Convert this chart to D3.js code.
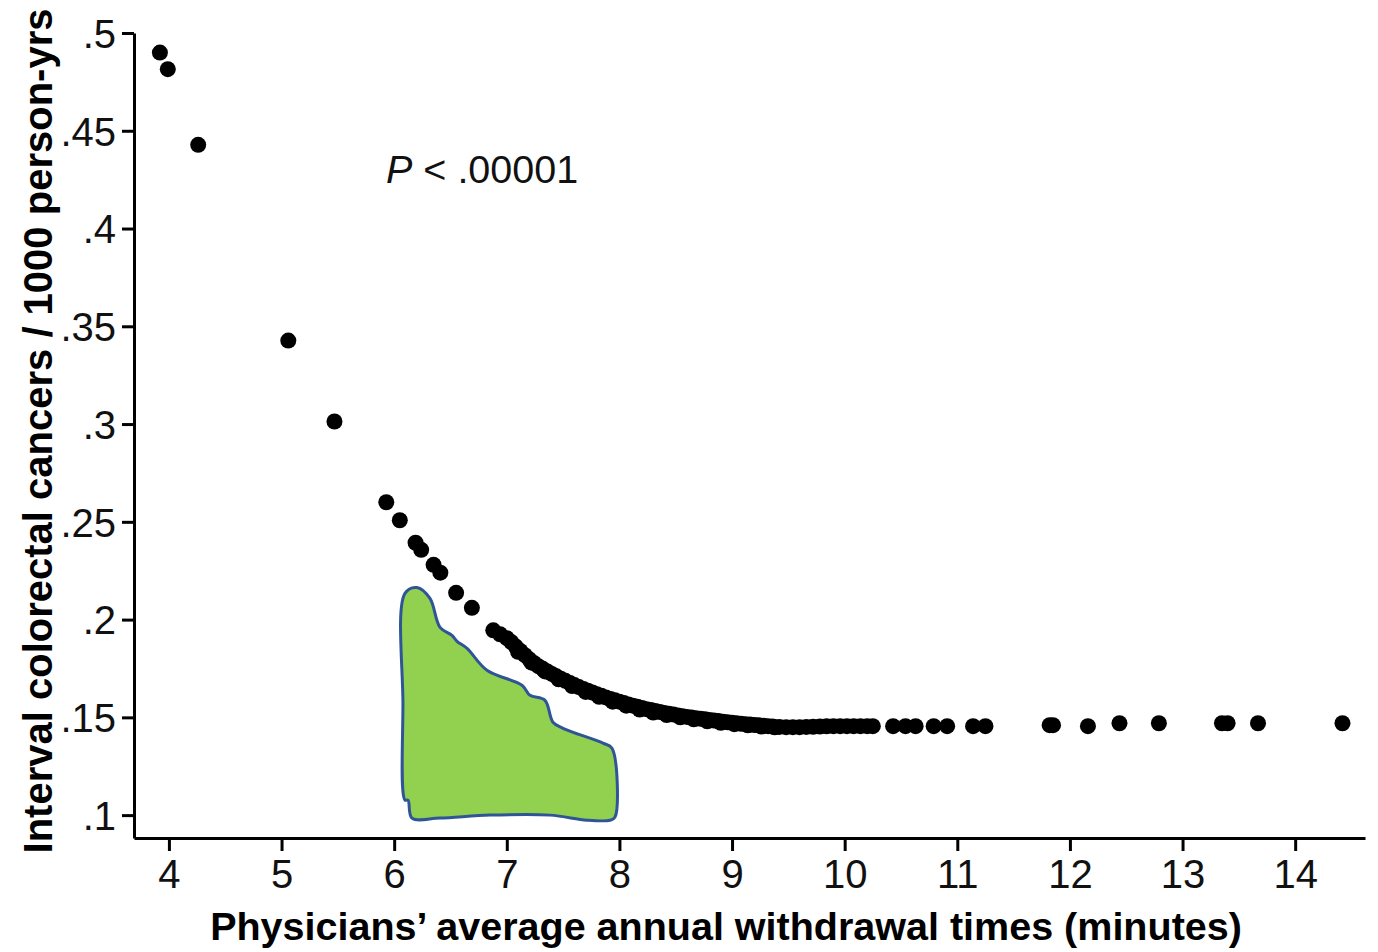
<!DOCTYPE html>
<html>
<head>
<meta charset="utf-8">
<script src="https://cdn.jsdelivr.net/npm/d3@7"></script>
<style>
  html, body { margin: 0; padding: 0; background: #fff; }
  svg { display: block; }
</style>
</head>
<body>
<div id="chart"></div>
<script>
// withdrawal time (minutes) and interval cancer rate
var sparseX = [3.92, 3.99, 4.26, 5.06, 5.47, 5.93, 6.05, 6.19, 6.24, 6.35, 6.41, 6.55, 6.69, 6.88, 6.94];
var sparseY = [0.490, 0.4815, 0.4428, 0.3427, 0.3013, 0.2600, 0.2508, 0.2393, 0.2357, 0.2280, 0.2240, 0.2137, 0.2060, 0.1945, 0.1925];

var denseX = [7.00, 7.04, 7.08, 7.12, 7.16, 7.20, 7.24, 7.28, 7.32, 7.36, 7.40, 7.44, 7.48, 7.52, 7.56,
              7.60, 7.64, 7.68, 7.72, 7.76, 7.80, 7.84, 7.88, 7.92, 7.96, 8.00, 8.04, 8.08, 8.12, 8.16,
              8.20, 8.24, 8.28, 8.32, 8.36, 8.40, 8.44, 8.48, 8.52, 8.56, 8.60, 8.64, 8.68, 8.72, 8.76,
              8.80, 8.84, 8.88, 8.92, 8.96, 9.00, 9.04, 9.08, 9.12, 9.16, 9.20, 9.24, 9.28, 9.32, 9.36,
              9.42, 9.48, 9.54, 9.60, 9.66, 9.72, 9.78, 9.84, 9.90, 9.96, 10.02, 10.08, 10.14, 10.20, 10.25];
var denseY = [0.1905, 0.1885, 0.1862, 0.1840, 0.1818, 0.1797, 0.1778, 0.1762, 0.1748, 0.1735, 0.1722, 0.1710, 0.1698, 0.1687, 0.1676,
              0.1665, 0.1655, 0.1645, 0.1636, 0.1627, 0.1618, 0.1610, 0.1602, 0.1594, 0.1587, 0.1580, 0.1573, 0.1566, 0.1560, 0.1554,
              0.1548, 0.1542, 0.1537, 0.1532, 0.1527, 0.1522, 0.1518, 0.1514, 0.1510, 0.1506, 0.1502, 0.1499, 0.1496, 0.1493, 0.1490,
              0.1487, 0.1484, 0.1481, 0.1478, 0.1475, 0.1472, 0.1470, 0.1467, 0.1465, 0.1463, 0.1461, 0.1459, 0.1457, 0.1455, 0.1453,
              0.1451, 0.1450, 0.1450, 0.1450, 0.1451, 0.1452, 0.1453, 0.1454, 0.1455, 0.1455, 0.1455, 0.1455, 0.1455, 0.1455, 0.1455];

// second, slightly offset row where the band of physicians is thickest
var bandX = [7.10, 7.22, 7.34, 7.46, 7.58, 7.70, 7.82, 7.94, 8.06, 8.18, 8.30, 8.42, 8.54, 8.66, 8.78, 8.90, 9.02, 9.14, 9.26, 9.38];
var bandY = [0.1835, 0.1780, 0.1735, 0.1695, 0.1660, 0.1630, 0.1605, 0.1580, 0.1560, 0.1540, 0.1525, 0.1512, 0.1500, 0.1490, 0.1480, 0.1472, 0.1465, 0.1459, 0.1453, 0.1449];

var tailX = [10.43, 10.54, 10.63, 10.79, 10.91, 11.14, 11.25, 11.82, 11.85, 12.16, 12.44, 12.79, 13.35, 13.40, 13.67, 14.42];
var tailY = [0.1455, 0.1455, 0.1455, 0.1455, 0.1455, 0.1455, 0.1455, 0.1460, 0.1460, 0.1455, 0.1470, 0.1470, 0.1470, 0.1470, 0.1470, 0.1470];

// hand-drawn green highlight (outline in data units)
var shapeX = [6.096, 6.202, 6.318, 6.407, 6.513, 6.558, 6.647, 6.824, 7.135, 7.206, 7.339, 7.410, 7.499, 7.854, 7.934,
              7.961, 7.917, 7.712, 7.384, 6.851, 6.407, 6.158, 6.123, 6.096, 6.078];
var shapeY = [0.2134, 0.2164, 0.2108, 0.1960, 0.1919, 0.1889, 0.1853, 0.1741, 0.1664, 0.1613, 0.1587, 0.1475, 0.1444, 0.1368, 0.1342,
              0.0990, 0.0974, 0.0974, 0.1000, 0.1000, 0.0985, 0.0985, 0.1077, 0.1077, 0.1572];

var xTicks = [4, 5, 6, 7, 8, 9, 10, 11, 12, 13, 14];
var yTicks = [0.1, 0.15, 0.2, 0.25, 0.3, 0.35, 0.4, 0.45, 0.5];
var yTickLabels = [".1", ".15", ".2", ".25", ".3", ".35", ".4", ".45", ".5"];

var width = 1378, height = 952;
var font = "'Liberation Sans', Arial, Helvetica, sans-serif";

var svg = d3.select("#chart").append("svg")
    .attr("width", width)
    .attr("height", height)
    .style("background", "#fff");

var x = d3.scaleLinear().domain([3.69, 14.62]).range([134, 1365]);
var y = d3.scaleLinear().domain([0.0883, 0.5]).range([838, 33]);

// highlight shape
var shape = shapeX.map(function(d, i) { return [d, shapeY[i]]; });
svg.append("path")
    .datum(shape)
    .attr("d", d3.line()
        .x(function(d) { return x(d[0]); })
        .y(function(d) { return y(d[1]); })
        .curve(d3.curveCatmullRomClosed.alpha(0.5)))
    .attr("fill", "#92d050")
    .attr("stroke", "#2f5597")
    .attr("stroke-width", 3)
    .attr("stroke-linejoin", "round");

// points
var pts = [];
[[sparseX, sparseY], [denseX, denseY], [bandX, bandY], [tailX, tailY]].forEach(function(s) {
    s[0].forEach(function(v, i) { pts.push([v, s[1][i]]); });
});

svg.append("g").selectAll("circle")
    .data(pts)
    .enter().append("circle")
    .attr("cx", function(d) { return x(d[0]); })
    .attr("cy", function(d) { return y(d[1]); })
    .attr("r", 8)
    .attr("fill", "#000");

// axes
var xAxis = svg.append("g")
    .attr("transform", "translate(0," + 838 + ")")
    .call(d3.axisBottom(x).tickValues(xTicks).tickSize(13).tickSizeOuter(0).tickPadding(9));

var yAxis = svg.append("g")
    .attr("transform", "translate(" + 134 + ",0)")
    .call(d3.axisLeft(y).tickValues(yTicks).tickSize(12).tickSizeOuter(0).tickPadding(6)
        .tickFormat(function(d, i) { return yTickLabels[i]; }));

[xAxis, yAxis].forEach(function(ax) {
    ax.select(".domain").attr("stroke", "#000").attr("stroke-width", 3);
    ax.selectAll(".tick line").attr("stroke", "#000").attr("stroke-width", 3);
    ax.selectAll(".tick text")
        .attr("fill", "#111")
        .style("font-family", font)
        .style("font-size", "40px");
});
yAxis.selectAll(".tick text").attr("dy", "0.36em");

// axis titles
svg.append("text")
    .attr("x", 726)
    .attr("y", 940)
    .attr("text-anchor", "middle")
    .style("font-family", font)
    .style("font-size", "39.5px")
    .style("font-weight", "bold")
    .text("Physicians\u2019 average annual withdrawal times (minutes)");

svg.append("text")
    .attr("transform", "translate(52,431) rotate(-90)")
    .attr("text-anchor", "middle")
    .style("font-family", font)
    .style("font-size", "40px")
    .style("font-weight", "bold")
    .text("Interval colorectal cancers / 1000 person-yrs");

// p-value note
var note = svg.append("text")
    .attr("x", 386)
    .attr("y", 183)
    .style("font-family", font)
    .style("font-size", "39.5px")
    .attr("fill", "#111");
note.append("tspan").style("font-style", "italic").text("P");
note.append("tspan").text(" < .00001");
</script>
</body>
</html>
